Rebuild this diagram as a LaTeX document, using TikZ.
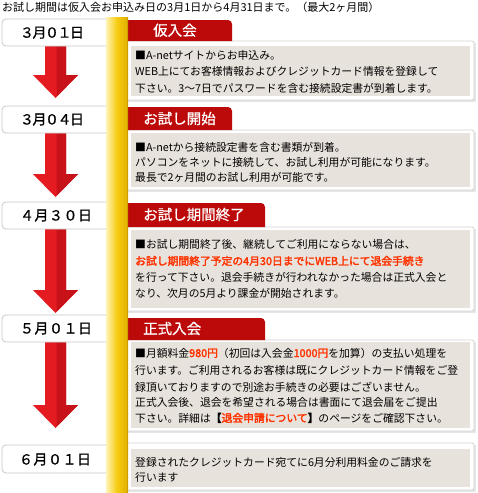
\documentclass[tikz,border=0pt]{standalone}
\usepackage{fontspec}
\newfontfamily\jp[AutoFakeBold=2.5]{Noto Sans CJK JP}
\newfontfamily\jpm[FakeBold=0.6]{Noto Sans CJK JP}
\definecolor{tabred}{HTML}{BC0909}
\definecolor{arrowred}{HTML}{E41C21}
\definecolor{arrowdark}{HTML}{C8121A}
\definecolor{beige}{HTML}{E8E2DC}
\definecolor{hl}{HTML}{FF3300}
\definecolor{boxline}{HTML}{D2D2D2}
\definecolor{boxshadow}{HTML}{E6E6E6}
\definecolor{dateline}{HTML}{C8C8C8}
\definecolor{barlight}{HTML}{FFF4B8}
\definecolor{barmid}{HTML}{F6CC10}
\definecolor{bardark}{HTML}{E0AE00}
\definecolor{baredge}{HTML}{CC9C00}
\newcommand\hlt[1]{\textcolor{hl}{\bfseries #1}}
\begin{document}
\begin{tikzpicture}[x=1pt,y=-1pt,
  txt/.style={anchor=base west, inner sep=0pt, font=\jp\fontsize{10.8}{13}\selectfont, text=black},
  tabtxt/.style={anchor=base west, inner sep=0pt, text=white, font=\jpm\fontsize{14.5}{16}\selectfont},
  datetxt/.style={anchor=base, inner sep=0pt, font=\jpm\fontsize{14}{16}\selectfont},
  outerbox/.style={draw=boxline, line width=0.8pt, fill=white, rounded corners=2pt},
  datebox/.style={draw=dateline, line width=0.8pt, fill=white, rounded corners=4pt}]
\useasboundingbox (0,0) rectangle (478,493);
\fill[white] (0,0) rectangle (478,493);

% title
\node[txt, font=\jp\fontsize{11}{13}\selectfont] (title) at (2,11.5) {お試し期間は仮入会お申込み日の3月1日から4月31日まで。（最大2ヶ月間）};

% content boxes
\foreach \a/\b/\c/\d in {41/100/46/96, 130/190/133/187, 227/311/230/308, 340/431/342/428, 443/490/449/487}{
  \fill[boxshadow] (121,\a+1.5) rectangle (475.5,\b+1.5);
  \draw[outerbox] (120,\a) rectangle (474,\b);
  \fill[beige] (131,\c) rectangle (470,\d);
}

% arrows
\foreach \t/\h/\p in {46/75/98, 133/174/197, 229/290/313, 342/405/428}{
  \fill[arrowred] (45,\t) -- (66,\t) -- (66,\h) -- (78,\h) -- (55.5,\p) -- (33,\h) -- (45,\h) -- cycle;
  \fill[arrowdark] (56.5,\t) -- (66,\t) -- (66,\h) -- (78,\h) -- (55.5,\p) -- (56.5,\p-1.2) -- cycle;
}

% date boxes
\foreach \a/\b in {19/46, 106/133, 202/229, 315/342, 445/473}{
  \draw[datebox] (2,\a) rectangle (116,\b);
}

% tabs
\foreach \a/\b/\r in {20/41/232, 107/130/232, 203/227/265, 318/340/265}{
  \fill[tabred] (128,\b) -- (128,\a) [rounded corners=4pt] -- (\r,\a) [sharp corners] -- (\r,\b) -- cycle;
}

% yellow bar
\shade[left color=barlight, right color=bardark, middle color=barmid] (106,17) rectangle (128,493);
\fill[baredge] (126.5,17) rectangle (128,493);

% dates
\node[datetxt] (d1) at (52,37.7) {３\kern-1.5pt 月\kern-1.5pt ０\kern-1.5pt １\kern-1.5pt 日};
\node[datetxt] (d2) at (52,124.5) {３\kern-1.5pt 月\kern-1.5pt ０\kern-1.5pt ４\kern-1.5pt 日};
\node[datetxt] (d3) at (56,220.5) {４\kern0.5pt 月\kern0.5pt ３\kern0.5pt ０\kern0.5pt 日};
\node[datetxt] (d4) at (56,333.5) {５\kern0.5pt 月\kern0.5pt ０\kern0.5pt １\kern0.5pt 日};
\node[datetxt] (d5) at (55,464.5) {６\kern0.5pt 月\kern0.5pt ０\kern0.5pt １\kern0.5pt 日};

% tab labels
\node[tabtxt] (t1) at (153,35.7) {仮入会};
\node[tabtxt] (t2) at (143,124) {お試し開始};
\node[tabtxt] (t3) at (143,220) {お試し期間終了};
\node[tabtxt] (t4) at (143,334) {正式入会};

% box 1
\node[txt] (b1a) at (135,59) {■A-netサイトからお申込み。};
\node[txt] (b1b) at (135,75.5) {WEB上にてお客様情報およびクレジットカード情報を登録して};
\node[txt] (b1c) at (135,92) {下さい。3～7日でパスワードを含む接続設定書が到着します。};

% box 2
\node[txt] (b2a) at (135,151) {■A-netから接続設定書を含む書類が到着。};
\node[txt] (b2b) at (135,166) {パソコンをネットに接続して、お試し利用が可能になります。};
\node[txt] (b2c) at (135,181) {最長で2ヶ月間のお試し利用が可能です。};

% box 3
\node[txt] (b3a) at (135,248) {■お試し期間終了後、継続してご利用にならない場合は、};
\node[txt] (b3b) at (135,265) {\hlt{お試し期間終了予定の4月30日までにWEB上にて退会手続き}};
\node[txt] (b3c) at (135,281) {を行って下さい。退会手続きが行われなかった場合は正式入会と};
\node[txt] (b3d) at (135,297) {なり、次月の5月より課金が開始されます。};

% box 4
\node[txt] (b4a) at (135,357) {■月額料金\hlt{980円}（初回は入会金\hlt{1000円}を加算）の支払い処理を};
\node[txt] (b4b) at (135,374) {行います。ご利用されるお客様は既にクレジットカード情報をご登};
\node[txt] (b4c) at (135,391) {録頂いておりますので別途お手続きの必要はございません。};
\node[txt] (b4d) at (135,406) {正式入会後、退会を希望される場合は書面にて退会届をご提出};
\node[txt] (b4e) at (135,422) {下さい。詳細は{\bfseries 【}\hlt{退会申請について}{\bfseries 】}のページをご確認下さい。};

% box 5
\node[txt] (b5a) at (135,466) {登録されたクレジットカード宛てに6月分利用料金のご請求を};
\node[txt] (b5b) at (135,481) {行います};
\end{tikzpicture}
\end{document}
